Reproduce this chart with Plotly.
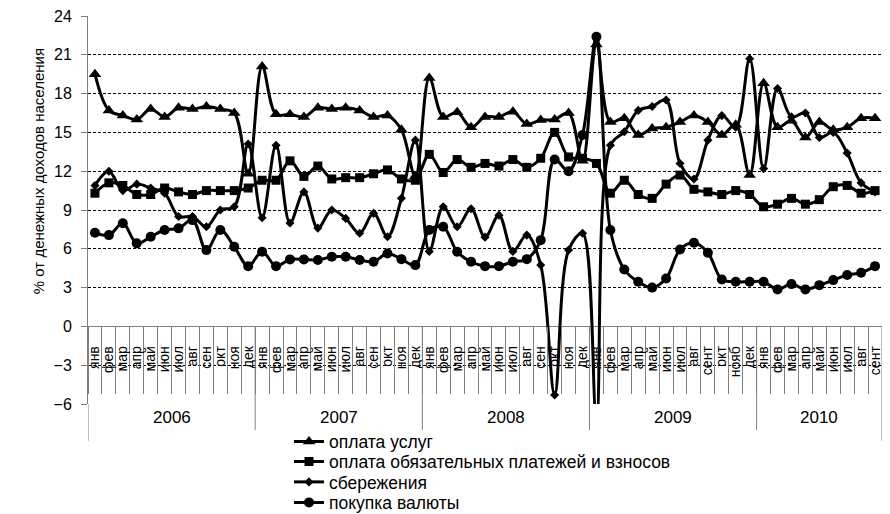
import plotly.graph_objects as go

years = ["2006", "2007", "2008", "2009", "2010"]
months_std = ["янв", "фев", "мар", "апр", "май", "июн", "июл", "авг", "сен", "окт", "ноя", "дек"]
months_2009 = ["янв", "фев", "мар", "апр", "май", "июн", "июл", "авг", "сент", "окт", "нояб", "дек"]
months_2010 = ["янв", "фев", "мар", "апр", "май", "июн", "июл", "авг", "сент"]
month_labels = months_std * 3 + months_2009 + months_2010
year_counts = [12, 12, 12, 12, 9]

uslugi = [19.5, 16.7, 16.3, 16.0, 16.8, 16.2, 16.9, 16.8, 17.0, 16.8, 16.5, 11.8,
          20.1, 16.4, 16.4, 16.2, 16.9, 16.8, 16.9, 16.7, 16.2, 16.3, 15.2, 11.6,
          19.2, 16.2, 16.55, 15.4, 16.2, 16.2, 16.6, 15.65, 15.95, 16.0, 16.5, 12.8,
          21.8, 15.8, 16.1, 14.8, 15.3, 15.4, 15.8, 16.3, 15.8, 14.8, 15.6, 11.7,
          18.8, 15.4, 15.9, 14.6, 15.8, 15.2, 15.4, 16.1, 16.1]

platezhi = [10.3, 11.1, 10.9, 10.2, 10.2, 10.7, 10.4, 10.2, 10.5, 10.5, 10.5, 10.7,
            11.3, 11.3, 12.8, 11.6, 12.4, 11.4, 11.5, 11.5, 11.8, 12.1, 11.4, 11.3,
            13.3, 11.9, 12.9, 12.3, 12.6, 12.4, 12.9, 12.3, 13.0, 15.0, 13.1, 13.0,
            12.6, 10.3, 11.3, 10.2, 9.9, 11.0, 11.7, 10.6, 10.4, 10.2, 10.5, 10.2,
            9.25, 9.45, 9.9, 9.45, 9.8, 10.8, 10.9, 10.3, 10.5]

sberezheniya = [10.9, 12.0, 10.5, 11.0, 10.7, 10.3, 8.5, 8.5, 7.7, 9.0, 9.25, 14.1,
                8.4, 14.0, 8.0, 10.4, 7.6, 9.0, 8.35, 7.2, 8.74, 6.93, 9.9, 14.4,
                5.8, 9.25, 7.7, 9.1, 6.9, 8.6, 5.8, 7.06, 4.74, -5.3, 5.9, 7.2,
                -7.0, 14.0, 15.05, 16.7, 17.0, 17.5, 12.6, 11.4, 14.4, 16.3, 15.4, 20.7,
                12.2, 18.4, 16.2, 16.5, 14.6, 15.0, 13.4, 11.1, 10.4]

valyuta = [7.24, 7.06, 7.97, 6.42, 6.93, 7.45, 7.58, 8.22, 5.9, 7.45, 6.16, 4.66,
           5.77, 4.66, 5.18, 5.18, 5.13, 5.38, 5.38, 5.13, 5.0, 5.64, 5.2, 4.74,
           7.45, 7.7, 5.77, 5.0, 4.66, 4.66, 5.0, 5.2, 6.67, 12.9, 12.0, 14.8,
           22.4, 7.45, 4.4, 3.45, 3.0, 3.7, 5.95, 6.47, 5.7, 3.63, 3.45, 3.45,
           3.45, 2.86, 3.27, 2.86, 3.19, 3.58, 3.97, 4.15, 4.66]

series_names = ["оплата услуг", "оплата обязательных платежей и взносов", "сбережения", "покупка валюты"]
y_title = "% от денежных доходов населения"

FONT = "Liberation Sans, Arial, sans-serif"
GRAY = "#808080"

# page body adds an 8px offset, so the figure is 8px smaller than the window
W, H = 882, 506

x = list(range(len(month_labels)))

fig = go.Figure()
specs = [
    (uslugi, "triangle-up", 11),
    (platezhi, "square", 9),
    (sberezheniya, "diamond", 7),
    (valyuta, "circle", 10),
]
legend_ids = ["legend", "legend2", "legend3", "legend4"]
for (vals, sym, sz), name, lg in zip(specs, series_names, legend_ids):
    fig.add_trace(go.Scatter(
        x=x, y=vals, name=name, mode="lines+markers", legend=lg,
        line=dict(color="black", width=3, shape="spline", smoothing=1),
        marker=dict(symbol=sym, size=sz, color="black"),
    ))

# year dividers and labels on the category axis
ymin, ymax = -6, 24
axis_pos = (0 - ymin) / (ymax - ymin)
start = -0.5
bounds = [start]
for c in year_counts:
    bounds.append(bounds[-1] + c)
for i, b in enumerate(bounds):
    outer = i == 0 or i == len(bounds) - 1
    fig.add_shape(type="line", xref="x", yref="paper", x0=b, x1=b,
                  y0=(0 if i == 0 else axis_pos), y1=(-0.095 if outer else -0.067),
                  line=dict(color=GRAY, width=1))
for i, yr in enumerate(years):
    fig.add_annotation(x=(bounds[i] + bounds[i + 1]) / 2, y=-0.034, xref="x", yref="paper",
                       text=yr, showarrow=False, xanchor="center", yanchor="middle",
                       font=dict(size=17, color="black", family=FONT))

fig.add_annotation(x=-0.063, y=12, xref="paper", yref="y", text=y_title, textangle=-90,
                   showarrow=False, xanchor="center", yanchor="middle",
                   font=dict(size=15, color="black", family=FONT))

legend_rows = [433.5, 453.5, 474.0, 494.5]
legends = {}
for lg, row in zip(legend_ids, legend_rows):
    legends[lg] = dict(x=281 / W, y=1 - row / H, xref="container", yref="container",
                       xanchor="left", yanchor="middle",
                       font=dict(size=17.5, color="black", family=FONT),
                       bgcolor="rgba(0,0,0,0)", borderwidth=0)

fig.update_layout(
    width=W, height=H,
    margin=dict(l=80, r=8, t=8, b=110, autoexpand=False),
    paper_bgcolor="white", plot_bgcolor="white",
    font=dict(family=FONT, color="black"),
    showlegend=True,
    **legends,
    xaxis=dict(range=[-0.5, len(x) - 0.5], tickmode="array", tickvals=x, ticktext=month_labels,
               tickangle=-90, ticks="", showgrid=False, zeroline=False, showline=False,
               anchor="free", position=axis_pos, automargin=False, ticklabeloverflow="allow",
               tickfont=dict(size=14, color="black", family=FONT), ticklabelstandoff=16,
               minor=dict(tick0=-0.5, dtick=1, ticks="outside", ticklen=67,
                          tickcolor=GRAY, tickwidth=1, showgrid=False)),
    yaxis=dict(range=[ymin, ymax], tickmode="array", tickvals=list(range(ymin, ymax + 1, 3)),
               showgrid=True, gridcolor="black", gridwidth=1, griddash="3px,2px",
               zeroline=True, zerolinecolor=GRAY, zerolinewidth=1,
               showline=True, linecolor=GRAY, linewidth=1, ticklabeloverflow="allow",
               ticks="outside", ticklen=6, tickcolor=GRAY, automargin=False,
               tickfont=dict(size=16, color="black", family=FONT), ticklabelstandoff=6),
)

fig.write_html("out.html")
